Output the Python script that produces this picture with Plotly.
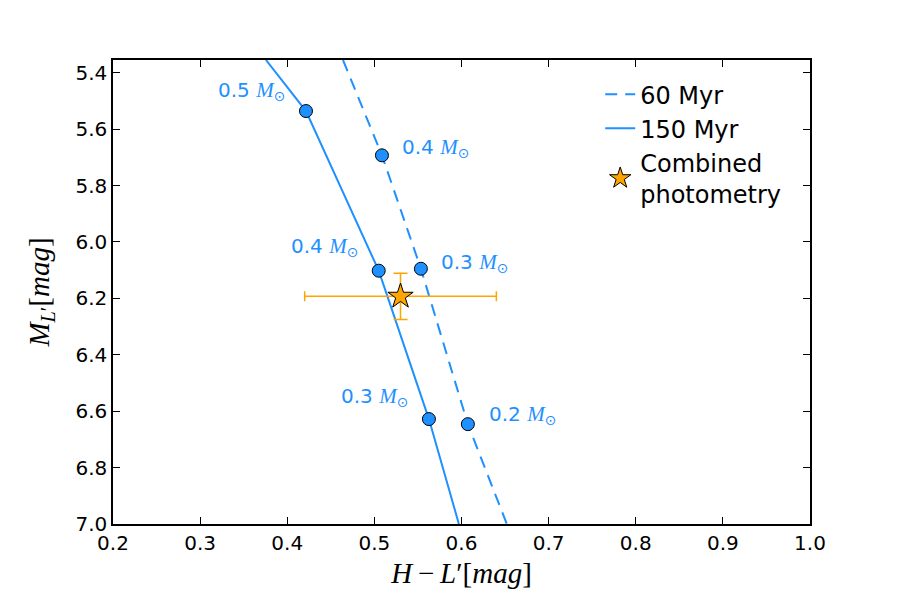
import plotly.graph_objects as go

# Isochrone tracks (H-L', M_L')
iso60_x = [0.4640, 0.5087, 0.5534, 0.6073, 0.6520]
iso60_y = [5.355, 5.693, 6.095, 6.646, 7.000]
iso150_x = [0.3756, 0.4215, 0.5050, 0.5626, 0.5970]
iso150_y = [5.355, 5.536, 6.102, 6.628, 7.000]

# Mass points on tracks
m60_x = [0.5087, 0.5534, 0.6073]
m60_y = [5.693, 6.095, 6.646]
m60_lab = ["0.4", "0.3", "0.2"]
m150_x = [0.4215, 0.5050, 0.5626]
m150_y = [5.536, 6.102, 6.628]
m150_lab = ["0.5", "0.4", "0.3"]

# Combined photometry
phot_x = [0.530]
phot_y = [6.193]
phot_xerr = [0.110]
phot_yerr = [0.082]

blue = "#1E90FF"
orange = "#FFA500"
serif = "Liberation Serif"

fig = go.Figure()
fig.add_trace(go.Scatter(x=iso60_x, y=iso60_y, mode="lines",
                         line=dict(color=blue, width=2, dash="12px,8px"),
                         name="60 Myr"))
fig.add_trace(go.Scatter(x=iso150_x, y=iso150_y, mode="lines",
                         line=dict(color=blue, width=2),
                         name="150 Myr"))
fig.add_trace(go.Scatter(x=m60_x + m150_x, y=m60_y + m150_y, mode="markers",
                         marker=dict(color=blue, size=13, line=dict(color="black", width=1)),
                         showlegend=False))
fig.add_trace(go.Scatter(x=phot_x, y=phot_y, mode="markers",
                         marker=dict(symbol="star", color=orange, size=19,
                                     line=dict(color="black", width=1)),
                         error_x=dict(type="data", array=phot_xerr, color=orange, thickness=1.5, width=5),
                         error_y=dict(type="data", array=phot_yerr, color=orange, thickness=1.5, width=7),
                         name="Combined<br>photometry"))

msun = ("<span style='font-family:%s;font-size:21px'><i>M</i></span>"
        "<sub><span style='font-size:14px'>\u2299</span></sub>" % serif)
offs60 = [(18, 7), (18, 6), (19, 9)]
offs150 = [(-19, 20), (-19, 24), (-19, 22)]
for x, y, lab, (dx, dy) in zip(m60_x, m60_y, m60_lab, offs60):
    fig.add_annotation(x=x, y=y, text=lab + " " + msun, showarrow=False,
                       xanchor="left", yanchor="middle", xshift=dx, yshift=dy,
                       font=dict(color=blue, size=20, family="DejaVu Sans"))
for x, y, lab, (dx, dy) in zip(m150_x, m150_y, m150_lab, offs150):
    fig.add_annotation(x=x, y=y, text=lab + " " + msun, showarrow=False,
                       xanchor="right", yanchor="middle", xshift=dx, yshift=dy,
                       font=dict(color=blue, size=20, family="DejaVu Sans"))

axis_common = dict(showline=True, linecolor="black", linewidth=1.5, mirror="allticks",
                   ticks="inside", ticklen=7, tickcolor="black", tickwidth=1,
                   showgrid=False, zeroline=False,
                   tickfont=dict(family="DejaVu Sans", size=20, color="black"))

fig.update_layout(
    width=900, height=600,
    margin=dict(l=113, r=90, t=60, b=76),
    plot_bgcolor="white", paper_bgcolor="white",
    xaxis=dict(range=[0.2, 1.0], tickvals=[0.2, 0.3, 0.4, 0.5, 0.6, 0.7, 0.8, 0.9, 1.0],
               ticktext=["0.2", "0.3", "0.4", "0.5", "0.6", "0.7", "0.8", "0.9", "1.0"],
               title=dict(text="<i>H</i>\u2009\u2212\u2009<i>L</i>\u2032[<i>mag</i>]",
                          font=dict(family=serif, size=29, color="black"), standoff=9),
               **axis_common),
    yaxis=dict(range=[7.0, 5.355], tickvals=[5.4, 5.6, 5.8, 6.0, 6.2, 6.4, 6.6, 6.8, 7.0],
               ticktext=["5.4", "5.6", "5.8", "6.0", "6.2", "6.4", "6.6", "6.8", "7.0"],
               title=dict(text="<i>M</i><sub><i>L</i>\u2032</sub>[<i>mag</i>]",
                          font=dict(family=serif, size=29, color="black"), standoff=17),
               **axis_common),
    legend=dict(x=0.699, y=0.974, xanchor="left", yanchor="top",
                font=dict(family="DejaVu Sans", size=24, color="black"),
                bgcolor="rgba(0,0,0,0)", borderwidth=0),
    showlegend=True,
)

fig.write_html("out.html")
